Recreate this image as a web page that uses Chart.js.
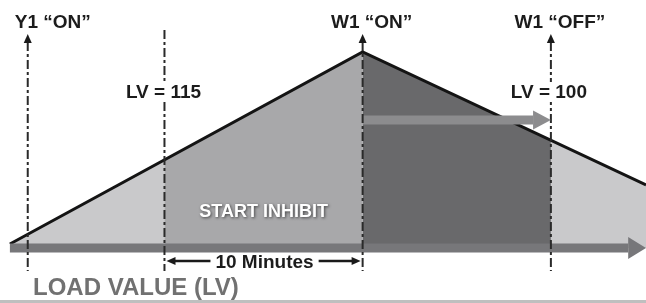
<!DOCTYPE html>
<html>
<head>
<meta charset="utf-8">
<script src="https://cdn.jsdelivr.net/npm/chart.js@4.4.1/dist/chart.umd.min.js"></script>
<style>
  html,body{margin:0;padding:0;background:#fff;}
  #wrap{width:646px;height:303px;position:relative;}
</style>
</head>
<body>
<div id="wrap"><canvas id="c" width="646" height="303"></canvas></div>
<script>
// ---- data (time in minutes-like units, load value in arbitrary units) ----
const profileTime = [0.5, 18.3, 32.6];
const profileLoad = [4, 196, 63];
const inhibitTime = [8.3, 18.3];
const inhibitLoad = [88, 196];
const lockTime = [18.3, 27.8];
const lockLoad = [196, 108];
const baseTime = [0.5, 31.7];
const baseTip = 32.6;
const upperTime = [18.3, 26.9];
const upperTip = 27.8;
const upperLevel = 128;
const markerTimes = [1.4, 8.3, 18.3, 27.8];
const markerTop = [206, 218, 206, 206];
const markerArrow = [true, false, true, true];
const markerBottom = -23;
const topLabels = ['Y1 \u201cON\u201d', '', 'W1 \u201cON\u201d', 'W1 \u201cOFF\u201d'];
const lvLabels = ['LV = 115', 'LV = 100'];
const spanLabel = '10 Minutes';
const zoneLabel = 'START INHIBIT';
const axisTitle = 'LOAD VALUE (LV)';

const pts = (xs, ys) => xs.map((v, i) => ({x: v, y: ys[i]}));

const datasets = [
  {data: pts(profileTime, profileLoad), fill: {value: 0}, backgroundColor: '#c9c9cb', borderWidth: 0, pointRadius: 0, order: 10},
  {data: pts(inhibitTime, inhibitLoad), fill: {value: 0}, backgroundColor: '#a8a8aa', borderWidth: 0, pointRadius: 0, order: 9},
  {data: pts(lockTime, lockLoad), fill: {value: 0}, backgroundColor: '#69696b', borderWidth: 0, pointRadius: 0, order: 8},
  {data: pts(profileTime, profileLoad), fill: false, borderColor: '#141414', borderWidth: 3, pointRadius: 0, order: 7, borderJoinStyle: 'miter'},
  {data: pts(baseTime, [0, 0]), fill: false, borderColor: '#77777a', borderWidth: 9, pointRadius: 0, order: 6, borderCapStyle: 'butt'},
  {data: pts(upperTime, [upperLevel, upperLevel]), fill: false, borderColor: '#8c8c8e', borderWidth: 9, pointRadius: 0, order: 5, borderCapStyle: 'butt'}
];
markerTimes.forEach((t, i) => {
  datasets.push({data: pts([t, t], [markerTop[i], markerBottom]), fill: false, borderColor: '#2a2a2a', borderWidth: 2, borderDash: [9, 3, 3, 3], pointRadius: 0, order: 2, borderCapStyle: 'butt'});
});

function tri(ctx, tipX, tipY, baseX, baseY, half, color, vertical) {
  ctx.fillStyle = color;
  ctx.beginPath();
  ctx.moveTo(tipX, tipY);
  if (vertical) {
    ctx.lineTo(baseX - half, baseY);
    ctx.lineTo(baseX + half, baseY);
  } else {
    ctx.lineTo(baseX, baseY - half);
    ctx.lineTo(baseX, baseY + half);
  }
  ctx.closePath();
  ctx.fill();
}

const annot = {
  id: 'annot',
  afterDatasetsDraw(chart) {
    const {ctx, scales: {x, y}} = chart;
    const X = v => x.getPixelForValue(v), Y = v => y.getPixelForValue(v);
    ctx.save();
    // bar arrowheads
    tri(ctx, X(baseTip), Y(0), X(baseTime[1]), Y(0), 11, '#77777a', false);
    tri(ctx, X(upperTip), Y(upperLevel), X(upperTime[1]), Y(upperLevel), 9.5, '#8c8c8e', false);
    // marker arrowheads
    markerTimes.forEach((t, i) => {
      if (markerArrow[i]) tri(ctx, X(t), Y(markerTop[i]) - 8, X(t), Y(markerTop[i]) + 1, 4, '#1a1a1a', true);
    });
    // top labels
    ctx.fillStyle = '#1c1c1c';
    ctx.font = 'bold 19px "Liberation Sans", Arial, sans-serif';
    ctx.textBaseline = 'alphabetic';
    ctx.textAlign = 'left';
    ctx.fillText(topLabels[0], X(markerTimes[0]) - 13, 28);
    ctx.textAlign = 'center';
    ctx.fillText(topLabels[2], X(markerTimes[2]) + 9, 28);
    ctx.fillText(topLabels[3], X(markerTimes[3]) + 9, 28);
    // LV labels with white backing to break dashed lines
    [[markerTimes[1], -1, lvLabels[0]], [markerTimes[3], -2, lvLabels[1]]].forEach(([t, off, s]) => {
      const cx = X(t) + off;
      const w = ctx.measureText(s).width;
      ctx.fillStyle = '#fff';
      ctx.fillRect(cx - w / 2 - 2, 82, w + 4, 20);
      ctx.fillStyle = '#1c1c1c';
      ctx.fillText(s, cx, 98);
    });
    // start inhibit label
    ctx.save();
    ctx.font = 'bold 18px "Liberation Sans", Arial, sans-serif';
    ctx.shadowColor = 'rgba(0,0,0,0.6)';
    ctx.shadowBlur = 3;
    ctx.shadowOffsetX = 1;
    ctx.shadowOffsetY = 1;
    ctx.fillStyle = '#ffffff';
    ctx.fillText(zoneLabel, (X(inhibitTime[0]) + X(inhibitTime[1])) / 2, 217);
    ctx.restore();
    // 10 minutes span
    const sx0 = X(inhibitTime[0]) + 2, sx1 = X(inhibitTime[1]) - 2, sy = 261;
    ctx.font = 'bold 19px "Liberation Sans", Arial, sans-serif';
    ctx.fillStyle = '#1c1c1c';
    const mid = (sx0 + sx1) / 2 + 1;
    ctx.fillText(spanLabel, mid, 268);
    const hw = ctx.measureText(spanLabel).width / 2;
    ctx.strokeStyle = '#1a1a1a';
    ctx.lineWidth = 2.5;
    ctx.beginPath();
    ctx.moveTo(sx0 + 6, sy); ctx.lineTo(mid - hw - 5, sy);
    ctx.moveTo(mid + hw + 5, sy); ctx.lineTo(sx1 - 6, sy);
    ctx.stroke();
    tri(ctx, sx0, sy, sx0 + 9, sy, 4, '#1a1a1a', false);
    tri(ctx, sx1, sy, sx1 - 9, sy, 4, '#1a1a1a', false);
    // axis title
    ctx.textAlign = 'left';
    ctx.font = 'bold 24px "Liberation Sans", Arial, sans-serif';
    ctx.fillStyle = '#717171';
    ctx.fillText(axisTitle, 33, 295);
    // bottom rule
    ctx.fillStyle = '#bfbfbf';
    ctx.fillRect(0, 300, chart.width, 3);
    ctx.restore();
  }
};

new Chart(document.getElementById('c'), {
  type: 'line',
  data: {datasets},
  options: {
    responsive: false,
    animation: false,
    devicePixelRatio: 1,
    layout: {padding: 0},
    clip: false,
    plugins: {legend: {display: false}, tooltip: {enabled: false}},
    scales: {
      x: {type: 'linear', min: 0, max: 32.6, display: false},
      y: {type: 'linear', min: -55, max: 248, display: false}
    }
  },
  plugins: [annot]
});
</script>
</body>
</html>
